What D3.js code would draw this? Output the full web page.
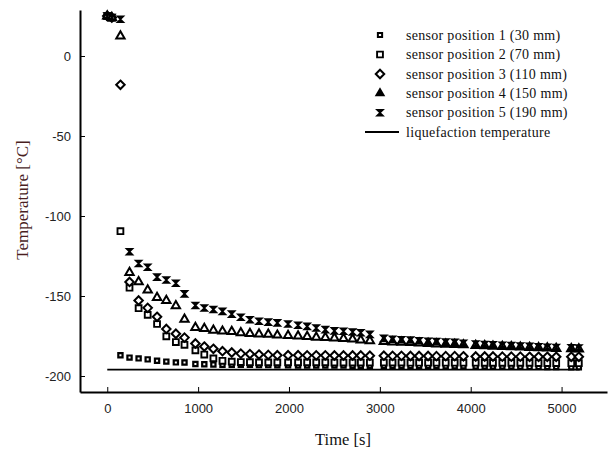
<!DOCTYPE html>
<html>
<head>
<meta charset="utf-8">
<script src="https://cdn.jsdelivr.net/npm/d3@7"></script>
<style>
  body { margin: 0; background: #fff; }
  svg { display: block; }
</style>
</head>
<body>
<div id="chart"></div>
<script>
// temps de mesure (s)
const times = [0, 50, 145, 245, 345, 445, 548, 650, 755, 850,
  970, 1068, 1168, 1268, 1370, 1470, 1570, 1670, 1772, 1872,
  1990, 2100, 2200, 2300, 2400, 2500, 2600, 2700, 2790, 2890,
  3044, 3140, 3238, 3337, 3432, 3531, 3623, 3725, 3824, 3920,
  4055, 4154, 4245, 4348, 4447, 4546, 4648, 4747, 4843, 4941,
  5107, 5190];

// températures (°C) par capteur
const sensor1 = [25, 24, -187, -188.5, -189, -189.6, -190.5, -191, -191.5, -191.6,
  -192.5, -192.7, -192.8, -193, -193, -193, -193, -193.2, -193.2, -193.3,
  -193.3, -193.4, -193.4, -193.5, -193.5, -193.5, -193.5, -193.6, -193.6, -193.6,
  -193.7, -193.7, -193.7, -193.8, -193.8, -193.8, -193.8, -193.9, -193.9, -193.9,
  -194, -194, -194, -194, -194, -194.2, -194.3, -194.3, -194.4, -194.4,
  -194.5, -194.5];
const sensor2 = [25, 24, -109.5, -144.8, -157.6, -161.8, -167.5, -175.2, -178.8, -180.5,
  -184, -186.6, -189, -190.5, -191, -191.3, -191.4, -191.5, -191.5, -191.5,
  -191.5, -191.5, -191.5, -191.5, -191.5, -191.6, -191.6, -191.6, -191.6, -191.6,
  -191.6, -191.6, -191.6, -191.7, -191.7, -191.7, -191.7, -191.7, -191.7, -191.7,
  -191.7, -191.8, -191.8, -191.8, -191.8, -191.8, -191.8, -191.9, -191.9, -191.9,
  -192, -192];
const sensor3 = [25, 24, -18, -141.2, -152.8, -157.4, -163, -170.6, -173.6, -176,
  -179.7, -181.6, -183, -184.5, -185.3, -186, -186.3, -186.6, -186.8, -187,
  -187, -187, -187.1, -187.1, -187.1, -187.2, -187.2, -187.2, -187.2, -187.3,
  -187.3, -187.4, -187.4, -187.5, -187.5, -187.5, -187.6, -187.6, -187.6, -187.7,
  -187.8, -187.8, -187.8, -187.9, -187.9, -187.9, -188, -188, -188, -188,
  -188, -188];
const sensor4 = [25, 24, 12.5, -135.3, -141.2, -146.3, -151, -152.8, -156.2, -164.6,
  -169.7, -170.3, -171.5, -172, -172.3, -173, -173.5, -173.8, -174, -174.5,
  -174.8, -175, -175.3, -175.8, -176, -176.3, -176.6, -177, -177.5, -178,
  -178.5, -178.8, -179, -179.2, -179.5, -179.7, -180, -180.2, -180.4, -180.6,
  -181, -181.2, -181.4, -181.6, -181.8, -182, -182.2, -182.4, -182.6, -182.8,
  -183, -183.2];
const sensor5 = [25, 24, 23, -122.3, -129.7, -132, -138.2, -140, -142, -148.7,
  -155.9, -157.5, -158.4, -159.6, -161.3, -163.3, -164.8, -165.8, -166.3, -166.8,
  -167.5, -168.3, -169, -170, -171, -171.8, -172, -172.5, -173, -174,
  -176.5, -177, -177.3, -177.5, -178, -178.3, -178.5, -178.8, -179, -179.5,
  -180, -180.3, -180.5, -180.8, -181, -181.3, -181.5, -181.8, -182, -182.2,
  -182.3, -182.5];

// température de liquéfaction (azote)
const liquefactionTemp = -196;
const liquefactionRange = [0, 5200];

const seriesLabels = [
  "sensor position 1 (30 mm)",
  "sensor position 2 (70 mm)",
  "sensor position 3 (110 mm)",
  "sensor position 4 (150 mm)",
  "sensor position 5 (190 mm)",
];
const lineLabel = "liquefaction temperature";

const xTicks = [0, 1000, 2000, 3000, 4000, 5000];
const yTicks = [0, -50, -100, -150, -200];

//---------------------------------------------------------------------------------------

const width = 609;
const height = 453;

const svg = d3.select("#chart")
  .append("svg")
  .attr("width", width)
  .attr("height", height);

const scaleX = d3.scaleLinear().domain([-300, 5500]).range([80, 607]);
const scaleY = d3.scaleLinear().domain([-210, 28.75]).range([392, 10]);

//---------------------------------------------------------------------------------------

// Axes (ticks vers l'intérieur), libellés avec un simple tiret
const xAxis = svg.append("g")
  .attr("transform", `translate(0, ${scaleY.range()[0]})`)
  .call(d3.axisBottom(scaleX).tickValues(xTicks).tickFormat(d => String(d))
    .tickSizeInner(-5).tickSizeOuter(0).tickPadding(12));

const yAxis = svg.append("g")
  .attr("transform", `translate(${scaleX.range()[0]}, 0)`)
  .call(d3.axisLeft(scaleY).tickValues(yTicks).tickFormat(d => String(d))
    .tickSizeInner(-5).tickSizeOuter(0).tickPadding(9));

[xAxis, yAxis].forEach(g => {
  g.select(".domain").attr("stroke", "#000").attr("stroke-width", 2);
  g.selectAll(".tick line").attr("stroke", "#000").attr("stroke-width", 1);
  g.selectAll("text")
    .attr("font-family", "'Liberation Sans', Arial, sans-serif")
    .attr("font-size", 13)
    .attr("fill", "#222");
});

// titres des axes
svg.append("text")
  .attr("x", 343)
  .attr("y", 445)
  .attr("text-anchor", "middle")
  .attr("font-family", "'Liberation Serif', 'Times New Roman', serif")
  .attr("font-size", 16.5)
  .attr("fill", "#111")
  .text("Time [s]");

svg.append("text")
  .attr("transform", "translate(28, 200) rotate(-90)")
  .attr("text-anchor", "middle")
  .attr("font-family", "'Liberation Serif', 'Times New Roman', serif")
  .attr("font-size", 17)
  .attr("fill", "#4a1f1f")
  .text("Temperature [°C]");

//---------------------------------------------------------------------------------------

// Formes des marqueurs
const bowtie = {
  draw(ctx, size) {
    const r = Math.sqrt(size) / 2;
    ctx.moveTo(-r, -r);
    ctx.lineTo(r, -r);
    ctx.lineTo(0, 0);
    ctx.lineTo(r, r);
    ctx.lineTo(-r, r);
    ctx.lineTo(0, 0);
    ctx.closePath();
  }
};

// losange aussi large que haut
const rhombus = {
  draw(ctx, size) {
    const r = Math.sqrt(size / 2);
    ctx.moveTo(0, -r);
    ctx.lineTo(r, 0);
    ctx.lineTo(0, r);
    ctx.lineTo(-r, 0);
    ctx.closePath();
  }
};

const markers = [
  { data: sensor1, path: d3.symbol(d3.symbolSquare, 18)(), fill: "#fff", sw: 2.2 },
  { data: sensor2, path: d3.symbol(d3.symbolSquare, 34)(), fill: "#fff", sw: 1.9 },
  { data: sensor3, path: d3.symbol(rhombus, 36)(), fill: "#fff", sw: 2 },
  { data: sensor4, path: d3.symbol(d3.symbolTriangle, 30)(), fill: "#fff", sw: 2 },
  { data: sensor5, path: d3.symbol(bowtie, 36)(), fill: "#000", sw: 1.6 },
];

// ligne de liquéfaction
svg.append("line")
  .attr("x1", scaleX(liquefactionRange[0]))
  .attr("x2", scaleX(liquefactionRange[1]))
  .attr("y1", scaleY(liquefactionTemp))
  .attr("y2", scaleY(liquefactionTemp))
  .attr("stroke", "#000")
  .attr("stroke-width", 1.8);

// séries de points
markers.forEach(m => {
  svg.append("g")
    .selectAll("path")
    .data(times.map((t, i) => ({ t, v: m.data[i] })))
    .join("path")
    .attr("transform", d => `translate(${scaleX(d.t)}, ${scaleY(d.v)})`)
    .attr("d", m.path)
    .attr("fill", m.fill)
    .attr("stroke", "#000")
    .attr("stroke-width", m.sw);
});

//---------------------------------------------------------------------------------------

// Légende
const legendRows = [35, 54.5, 74, 93.3, 112.7];
const legend = svg.append("g");

legend.selectAll("path")
  .data(markers)
  .join("path")
  .attr("transform", (d, i) => `translate(380, ${legendRows[i]})`)
  .attr("d", (d, i) => i === 3 ? d3.symbol(d3.symbolTriangle, 22)() : d.path)
  .attr("fill", (d, i) => i === 3 ? "#000" : d.fill)
  .attr("stroke", "#000")
  .attr("stroke-width", (d, i) => i === 0 ? 2 : d.sw);

legend.selectAll("text")
  .data(seriesLabels.concat([lineLabel]))
  .join("text")
  .attr("x", 406)
  .attr("y", (d, i) => (i < 5 ? legendRows[i] : 132.3) + 4.5)
  .attr("font-family", "'Liberation Serif', 'Times New Roman', serif")
  .attr("font-size", 14)
  .attr("letter-spacing", 0.3)
  .attr("fill", "#111")
  .text(d => d);

legend.append("line")
  .attr("x1", 365)
  .attr("x2", 399)
  .attr("y1", 132)
  .attr("y2", 132)
  .attr("stroke", "#000")
  .attr("stroke-width", 1.8);
</script>
</body>
</html>
